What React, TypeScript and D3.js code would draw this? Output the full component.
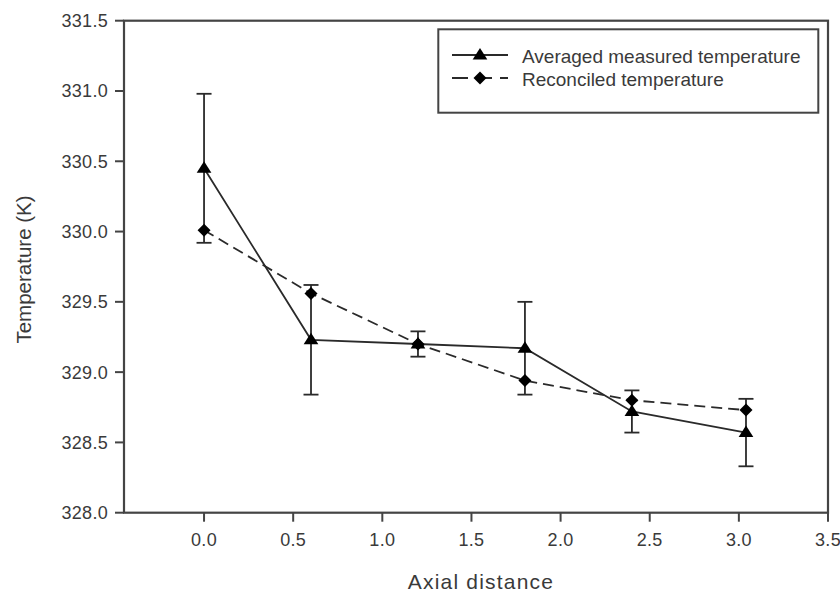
import React from "react";
import * as d3 from "d3";

const axialDistance = [0, 0.6, 1.2, 1.8, 2.4, 3.04];
const measuredTemp = [330.45, 329.23, 329.2, 329.17, 328.72, 328.57];
const measuredErr = [0.53, 0.39, 0.09, 0.33, 0.15, 0.24];
const reconciledTemp = [330.01, 329.56, 329.2, 328.94, 328.8, 328.73];
const xTicks = [0, 0.5, 1.0, 1.5, 2.0, 2.5, 3.0, 3.5];
const yTicks = [328.0, 328.5, 329.0, 329.5, 330.0, 330.5, 331.0, 331.5];
const seriesNames = ["Averaged measured temperature", "Reconciled temperature"];
const xTitle = "Axial distance";
const yTitle = "Temperature (K)";

const W = 840;
const H = 592;
const left = 124;
const right = 828;
const top = 20.7;
const bottom = 512.7;

const FONT = "Arial, 'Liberation Sans', sans-serif";
const INK = "#2a2a2a";
const TEXT = "#3a3a3a";

function triPath(cx: number, cy: number, s = 7) {
  return `M${cx},${cy - s}L${cx + s * 1.05},${cy + s * 0.65}L${cx - s * 1.05},${cy + s * 0.65}Z`;
}
function diaPath(cx: number, cy: number, s = 6.5) {
  return `M${cx},${cy - s}L${cx + s},${cy}L${cx},${cy + s}L${cx - s},${cy}Z`;
}

export default function App() {
  const x = d3.scaleLinear().domain([-0.449, 3.5]).range([left, right]);
  const y = d3.scaleLinear().domain([328, 331.5]).range([bottom, top]);

  const measured = axialDistance.map((d, i) => ({ x: d, y: measuredTemp[i], e: measuredErr[i] }));
  const reconciled = axialDistance.map((d, i) => ({ x: d, y: reconciledTemp[i] }));

  const line = d3
    .line<{ x: number; y: number }>()
    .x((d) => x(d.x))
    .y((d) => y(d.y));

  const legX0 = 452;
  const legX1 = 508;
  const legMid = 480;
  const row1 = 55;
  const row2 = 78;

  return (
    <svg
      width={W}
      height={H}
      style={{ position: "absolute", left: 0, top: 0, background: "#fff" }}
      fontFamily={FONT}
    >
      <rect x={0} y={0} width={W} height={H} fill="#fff" />

      {/* error bars */}
      {measured.map((d, i) => (
        <g key={"e" + i} stroke={INK} strokeWidth={1.8}>
          <line x1={x(d.x)} x2={x(d.x)} y1={y(d.y - d.e)} y2={y(d.y + d.e)} />
          <line x1={x(d.x) - 7.5} x2={x(d.x) + 7.5} y1={y(d.y + d.e)} y2={y(d.y + d.e)} />
          <line x1={x(d.x) - 7.5} x2={x(d.x) + 7.5} y1={y(d.y - d.e)} y2={y(d.y - d.e)} />
        </g>
      ))}

      {/* lines */}
      <path d={line(measured) || ""} fill="none" stroke={INK} strokeWidth={1.8} />
      <path d={line(reconciled) || ""} fill="none" stroke={INK} strokeWidth={1.8} strokeDasharray="11,6" />

      {/* markers */}
      {measured.map((d, i) => (
        <path key={"t" + i} d={triPath(x(d.x), y(d.y))} fill="#000" />
      ))}
      {reconciled.map((d, i) => (
        <path key={"d" + i} d={diaPath(x(d.x), y(d.y))} fill="#000" />
      ))}

      {/* frame */}
      <rect x={left} y={top} width={right - left} height={bottom - top} fill="none" stroke="#444" strokeWidth={2.2} />

      {/* y ticks */}
      {yTicks.map((t) => (
        <g key={"y" + t}>
          <line x1={left - 9} x2={left} y1={y(t)} y2={y(t)} stroke="#444" strokeWidth={2} />
          <text
            x={108}
            y={y(t)}
            dy="0.36em"
            textAnchor="end"
            fontSize={18}
            fill={TEXT}
            letterSpacing={0.3}
          >
            {t.toFixed(1)}
          </text>
        </g>
      ))}

      {/* x ticks */}
      {xTicks.map((t) => (
        <g key={"x" + t}>
          <line x1={x(t)} x2={x(t)} y1={bottom} y2={bottom + 9} stroke="#444" strokeWidth={2} />
          <text x={x(t)} y={540} dy="0.36em" textAnchor="middle" fontSize={18} fill={TEXT} letterSpacing={0.3}>
            {t.toFixed(1)}
          </text>
        </g>
      ))}

      {/* axis titles */}
      <text x={481} y={589} textAnchor="middle" fontSize={21} fill={TEXT} letterSpacing={1.2}>
        {xTitle}
      </text>
      <text
        transform={`translate(31,269.5) rotate(-90)`}
        textAnchor="middle"
        fontSize={20.5}
        fill={TEXT}
      >
        {yTitle}
      </text>

      {/* legend */}
      <rect x={438.3} y={29.3} width={380} height={83.4} fill="#fff" stroke="#444" strokeWidth={2} />
      <line x1={legX0} x2={legX1} y1={row1} y2={row1} stroke={INK} strokeWidth={1.8} />
      <path d={triPath(legMid, row1)} fill="#000" />
      <line x1={legX0} x2={legX1} y1={row2} y2={row2} stroke={INK} strokeWidth={1.8} strokeDasharray="16,8" />
      <path d={diaPath(legMid, row2)} fill="#000" />
      <text x={522} y={row1 + 1} dy="0.36em" fontSize={19} fill={TEXT}>
        {seriesNames[0]}
      </text>
      <text x={522} y={row2 + 1} dy="0.36em" fontSize={19} fill={TEXT}>
        {seriesNames[1]}
      </text>
    </svg>
  );
}
